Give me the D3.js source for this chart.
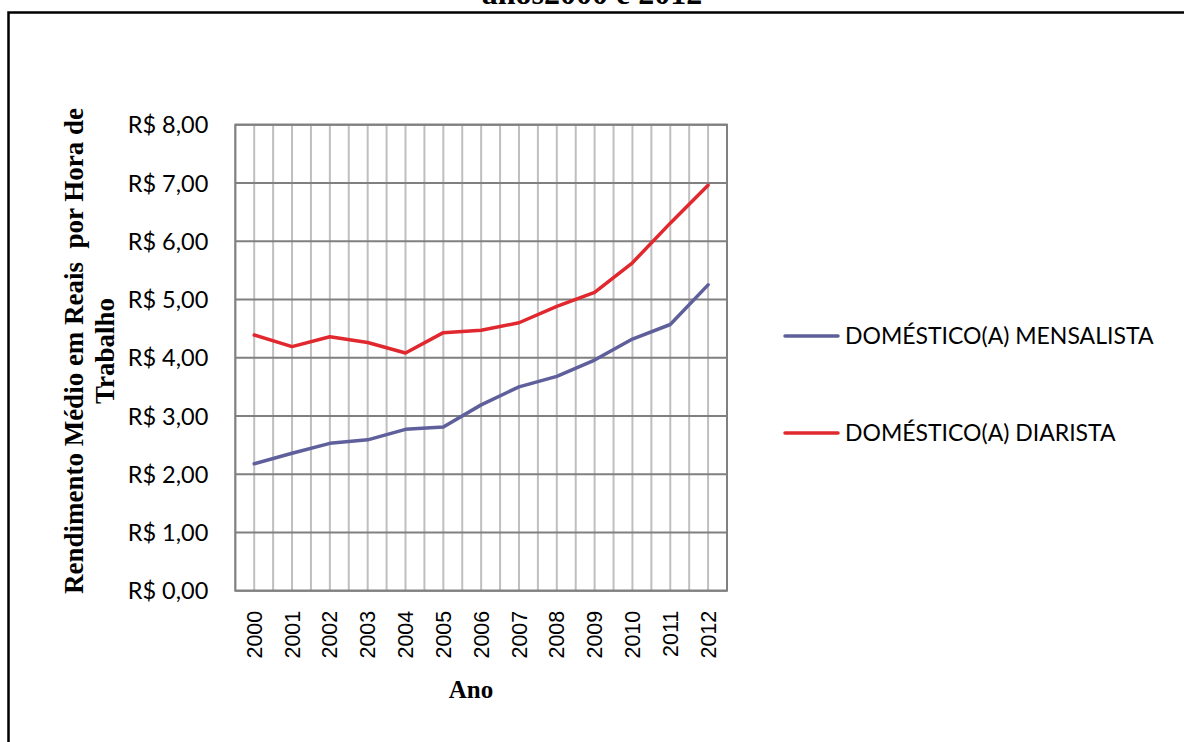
<!DOCTYPE html>
<html>
<head>
<meta charset="utf-8">
<script src="https://cdn.jsdelivr.net/npm/d3@7"></script>
<style>
  body { margin: 0; background: #fff; }
  svg { display: block; }
</style>
</head>
<body>
<svg id="chart" width="1184" height="742"></svg>
<script>
// Average hourly earnings of domestic workers, 2000–2012 (R$)
const years = ["2000","2001","2002","2003","2004","2005","2006","2007","2008","2009","2010","2011","2012"];
const mensalista = [2.18, 2.36, 2.53, 2.59, 2.77, 2.81, 3.19, 3.50, 3.68, 3.96, 4.32, 4.57, 5.25];
const diarista   = [4.39, 4.19, 4.36, 4.26, 4.08, 4.43, 4.47, 4.60, 4.88, 5.12, 5.63, 6.31, 6.96];
const yTicks = [0, 1, 2, 3, 4, 5, 6, 7, 8];
const seriesNames = ["DOMÉSTICO(A) MENSALISTA", "DOMÉSTICO(A) DIARISTA"];
const seriesColors = ["#5f5f9c", "#e0282e"];
const titleText = "anos2000 e 2012";
const xTitle = "Ano";
const yTitleLines = ["Rendimento Médio em Reais  por Hora de", "Trabalho"];

const svg = d3.select("#chart");
const W = 1184, H = 742;
const plot = { left: 235.3, right: 727, top: 124.7, bottom: 590.7 };

const ptBR = d3.formatLocale({ decimal: ",", thousands: ".", grouping: [3], currency: ["R$ ", ""] });
const money = ptBR.format("$.2f");

const x = d3.scaleBand().domain(years).range([plot.left, plot.right]).padding(0);
const y = d3.scaleLinear().domain([0, 8]).range([plot.bottom, plot.top]);
const bw = x.bandwidth();

// outer frame (left and top edges)
svg.append("path")
  .attr("d", `M8.5,${H} V12.5 H${W}`)
  .attr("fill", "none").attr("stroke", "#000").attr("stroke-width", 2.5);

// title, mostly above the page edge
svg.append("text")
  .attr("x", 592).attr("y", 4)
  .attr("text-anchor", "middle")
  .attr("font-family", "Liberation Serif, serif").attr("font-weight", "bold")
  .attr("font-size", 32)
  .text(titleText);

// vertical grid: category edges and centres
const vLines = [];
years.forEach(yr => { vLines.push(x(yr)); vLines.push(x(yr) + bw / 2); });
vLines.push(plot.right);
svg.append("g").selectAll("line").data(vLines).join("line")
  .attr("x1", d => d).attr("x2", d => d)
  .attr("y1", plot.top).attr("y2", plot.bottom)
  .attr("stroke", "#bfbfbf").attr("stroke-width", 2);

// horizontal grid on value ticks
svg.append("g").selectAll("line").data(yTicks).join("line")
  .attr("x1", plot.left).attr("x2", plot.right)
  .attr("y1", d => y(d)).attr("y2", d => y(d))
  .attr("stroke", "#808080").attr("stroke-width", 2);

// plot border
svg.append("rect")
  .attr("x", plot.left).attr("y", plot.top)
  .attr("width", plot.right - plot.left).attr("height", plot.bottom - plot.top)
  .attr("fill", "none").attr("stroke", "#808080").attr("stroke-width", 2);

// value axis labels
const yAxis = d3.axisLeft(y).tickValues(yTicks).tickFormat(money).tickSize(0).tickPadding(27);
const gy = svg.append("g").attr("transform", `translate(${plot.left},0)`).call(yAxis);
gy.select(".domain").remove();
gy.selectAll("text")
  .attr("font-family", "Lato, sans-serif").attr("font-size", 23.5).attr("fill", "#000")
  .attr("dy", "0.35em");

// category axis labels, rotated
const xAxis = d3.axisBottom(x).tickSize(0).tickPadding(0);
const gx = svg.append("g").attr("transform", `translate(0,${plot.bottom})`).call(xAxis);
gx.select(".domain").remove();
gx.selectAll("text")
  .attr("font-family", "Liberation Sans, Arial, sans-serif").attr("font-size", 21.5).attr("fill", "#000")
  .attr("text-anchor", "end")
  .attr("transform", "translate(0,20) rotate(-90)")
  .attr("x", 0).attr("y", 0).attr("dy", "0.35em");

// series lines
const line = d3.line().x((d, i) => x(years[i]) + bw / 2).y(d => y(d));
[mensalista, diarista].forEach((vals, i) => {
  svg.append("path").datum(vals)
    .attr("d", line)
    .attr("fill", "none")
    .attr("stroke", seriesColors[i]).attr("stroke-width", 3.5)
    .attr("stroke-linejoin", "round").attr("stroke-linecap", "round");
});

// axis titles
svg.append("text")
  .attr("x", 471).attr("y", 698)
  .attr("text-anchor", "middle")
  .attr("font-family", "Liberation Serif, serif").attr("font-weight", "bold").attr("font-size", 25)
  .text(xTitle);

const yt = svg.append("text")
  .attr("transform", "translate(83,351) rotate(-90)")
  .attr("text-anchor", "middle")
  .attr("font-family", "Liberation Serif, serif").attr("font-weight", "bold").attr("font-size", 27)
  .attr("xml:space", "preserve");
yTitleLines.forEach((t, i) => {
  yt.append("tspan").attr("x", 0).attr("dy", i === 0 ? 0 : 31).text(t);
});

// legend
const legendY = [336, 433];
const lg = svg.append("g");
seriesNames.forEach((name, i) => {
  lg.append("line")
    .attr("x1", 785).attr("x2", 838)
    .attr("y1", legendY[i]).attr("y2", legendY[i])
    .attr("stroke", seriesColors[i]).attr("stroke-width", 3.5).attr("stroke-linecap", "round");
  lg.append("text")
    .attr("x", 845).attr("y", legendY[i]).attr("dy", "0.35em")
    .attr("font-family", "Lato, sans-serif").attr("font-size", 23).attr("fill", "#000")
    .text(name);
});
</script>
</body>
</html>
